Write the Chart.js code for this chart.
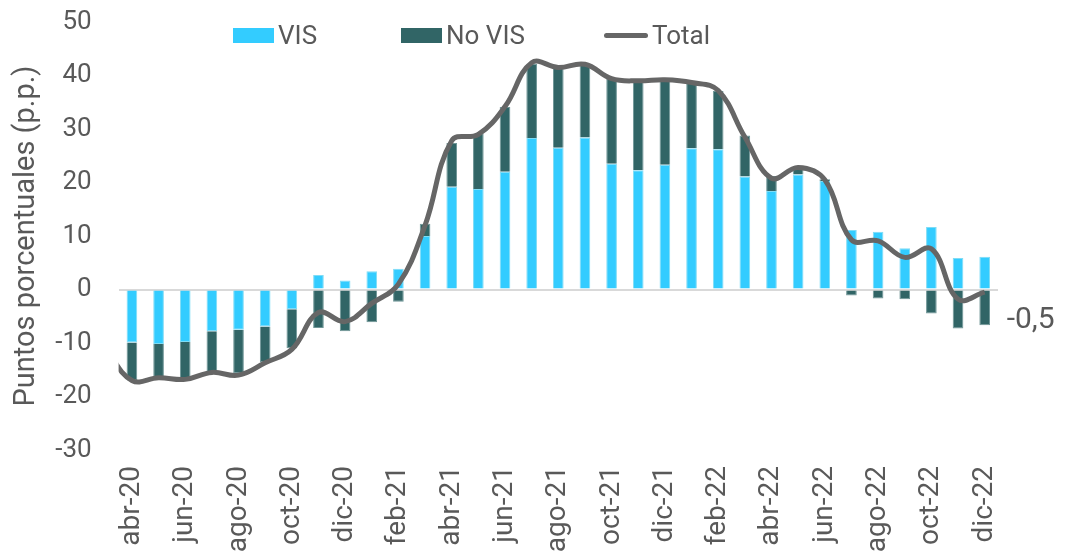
<!DOCTYPE html>
<html>
<head>
<meta charset="utf-8">
<script src="https://cdn.jsdelivr.net/npm/chart.js@4"></script>
<style>
  body { margin: 0; background: #fff; font-family: Roboto, sans-serif; }
  #wrap { position: relative; width: 1066px; height: 558px; }
  .leg { position: absolute; top: 20px; font-size: 26px; color: #595959; line-height: 30px; display: flex; align-items: center; }
  .leg i { display: inline-block; margin-right: 4px; }
</style>
</head>
<body>
<div id="wrap">
  <canvas id="chart"></canvas>
  <div class="leg" style="left:233px"><i style="width:41px;height:15px;background:#33CCFF"></i>VIS</div>
  <div class="leg" style="left:401px"><i style="width:41px;height:15px;background:#316566"></i>No VIS</div>
  <div class="leg" style="left:604px"><i style="width:44px;height:5px;border-radius:3px;background:#666"></i>Total</div>
</div>
<script>
// mar-20 solo tiene dato de Total (queda fuera del eje, la línea entra desde el borde)
const labels = ['mar-20','abr-20','may-20','jun-20','jul-20','ago-20','sep-20','oct-20','nov-20','dic-20',
  'ene-21','feb-21','mar-21','abr-21','may-21','jun-21','jul-21','ago-21','sep-21','oct-21','nov-21','dic-21',
  'ene-22','feb-22','mar-22','abr-22','may-22','jun-22','jul-22','ago-22','sep-22','oct-22','nov-22','dic-22'];
const vis = [null,-9.9,-10.2,-9.8,-7.8,-7.5,-6.9,-3.7,2.7,1.7,
  3.4,3.9,10.0,19.2,18.8,22.0,28.3,26.5,28.4,23.5,22.3,23.3,
  26.4,26.2,21.1,18.4,21.5,20.3,11.1,10.8,7.7,11.7,5.9,6.1];
const noVis = [null,-7.1,-6.2,-6.8,-7.7,-8.2,-6.7,-7.3,-7.2,-7.8,
  -6.1,-2.3,2.3,8.2,10.3,12.1,13.9,15.1,13.7,15.9,16.5,15.8,
  12.3,10.9,7.7,2.8,1.5,0.3,-1.1,-1.7,-1.8,-4.5,-7.3,-6.7];
const total = [-11.0,-17.0,-16.5,-16.8,-15.5,-16.0,-13.7,-11.2,-4.3,-6.0,
  -2.6,1.0,12.0,27.8,29.0,34.2,42.4,41.5,42.1,39.4,39.0,39.2,
  38.7,37.2,28.5,20.8,22.8,20.5,9.3,9.1,6.0,7.6,-1.8,-0.5];
const lastLabel = '-0,5';

const txt = '#595959';

// etiqueta del último dato
const endLabel = {
  id: 'endLabel',
  afterDatasetsDraw(chart) {
    const c = chart.ctx;
    const n = total.length - 1;
    const x = chart.scales.x.getPixelForValue(n);
    const y = chart.scales.y.getPixelForValue(total[n]);
    c.save();
    c.font = '30px Roboto';
    c.fillStyle = txt;
    c.textBaseline = 'middle';
    c.fillText(lastLabel, x + 22, y + 28);
    c.restore();
  }
};

new Chart(document.getElementById('chart'), {
  type: 'bar',
  data: {
    labels,
    datasets: [
      {label:'VIS', data: vis, backgroundColor:'#33CCFF', borderColor:'#7fdcf5', borderWidth:1, stack:'s', order:1,
       barPercentage:0.4, categoryPercentage:1},
      {label:'No VIS', data: noVis, backgroundColor:'#316566', borderColor:'#6f9697', borderWidth:1, stack:'s', order:1,
       barPercentage:0.4, categoryPercentage:1},
      {type:'line', label:'Total', data: total, borderColor:'#666666', borderWidth:5, pointRadius:0,
       tension:0.4, stack:'t', order:0, fill:false, clip: 0}
    ]
  },
  options: {
    responsive: true,
    maintainAspectRatio: false,
    animation: false,
    layout: { padding: { top: 22, right: 68, left: 0, bottom: 0 } },
    plugins: { legend: { display: false }, tooltip: { enabled: false } },
    scales: {
      x: {
        stacked: true,
        min: 'abr-20',
        grid: { display: false },
        border: { display: false },
        ticks: {
          autoSkip: false, maxRotation: 90, minRotation: 90, padding: 8,
          color: txt, font: { family: 'Roboto', size: 28 },
          callback: function (v) { return v % 2 === 1 ? labels[v] : ''; }
        },
        afterFit: s => { s.height = 108; }
      },
      y: {
        stacked: true,
        min: -30, max: 50,
        ticks: { stepSize: 10, padding: 5, color: txt, font: { family: 'Roboto', size: 26 } },
        grid: { drawTicks: true, tickLength: 22, tickColor: 'transparent', lineWidth: 2,
                color: c => c.tick && c.tick.value === 0 ? '#d9d9d9' : 'transparent' },
        border: { display: false },
        title: { display: true, text: 'Puntos porcentuales (p.p.)', color: txt,
                 font: { family: 'Roboto', size: 29 }, padding: { top: 9, bottom: 0 } },
        afterFit: s => { s.width = 118.6; }
      }
    }
  },
  plugins: [endLabel]
});
</script>
</body>
</html>
